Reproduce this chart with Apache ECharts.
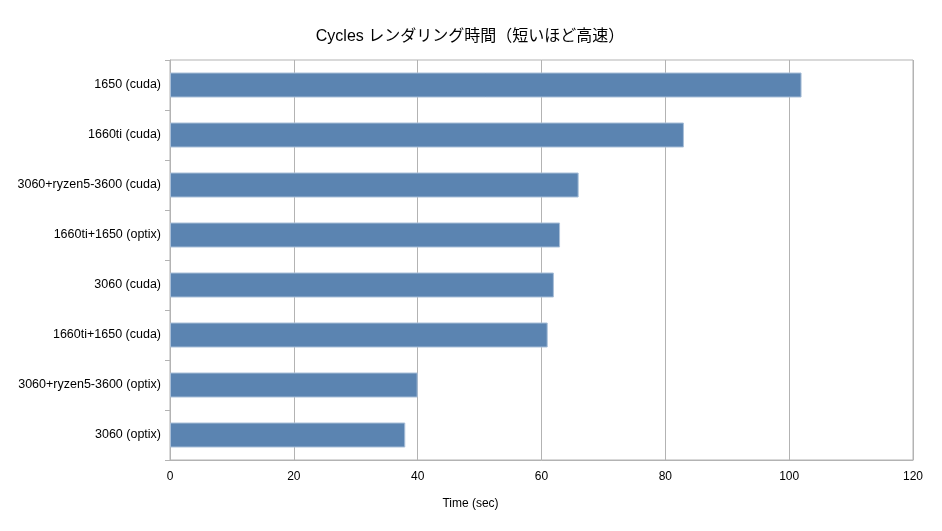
<!DOCTYPE html>
<html>
<head>
	<meta charset="utf-8">
	<title>Cycles レンダリング時間</title>
    <script src="https://cdn.jsdelivr.net/npm/echarts@6/dist/echarts.min.js"></script>
    <style>
        html, body { margin: 0; padding: 0; background: #fff; }
    </style>
</head>
<body>
    <div id="main" style="width: 942px;height:531px;"></div>
	<script type="text/javascript">
        // bottom to top, as the category axis draws them
        const categories = [
            '3060 (optix)',
            '3060+ryzen5-3600 (optix)',
            '1660ti+1650 (cuda)',
            '3060 (cuda)',
            '1660ti+1650 (optix)',
            '3060+ryzen5-3600 (cuda)',
            '1660ti (cuda)',
            '1650 (cuda)'
        ];
        const renderSeconds = [38, 40, 61, 62, 63, 66, 83, 102];
        const xTicks = [0, 20, 40, 60, 80, 100, 120];

        const font = "'Liberation Sans', 'Noto Sans CJK JP', sans-serif";
        const gridColor = '#b3b3b3';

        const myChart = echarts.init(document.getElementById('main'));
        const options = {
            animation: false,
            title: {
                text: 'Cycles レンダリング時間（短いほど高速）',
                left: 465,
                top: 24,
                textAlign: 'center',
                textStyle: {
                    fontFamily: font,
                    fontSize: 16,
                    fontWeight: 'normal',
                    color: '#000'
                }
            },
            grid: {
                left: 170,
                right: 29,
                top: 60,
                bottom: 71,
                show: true,
                borderColor: gridColor,
                borderWidth: 1
            },
            xAxis: {
                type: 'value',
                min: xTicks[0],
                max: xTicks[xTicks.length - 1],
                interval: 20,
                name: 'Time (sec)',
                nameLocation: 'middle',
                nameGap: 38,
                nameTextStyle: {
                    fontFamily: font,
                    fontSize: 12,
                    color: '#000',
                    verticalAlign: 'top',
                    padding: [0, 142, 0, 0]
                },
                axisLine: { show: true, lineStyle: { color: gridColor } },
                axisTick: { show: false },
                axisLabel: {
                    margin: 11,
                    fontFamily: font,
                    fontSize: 12,
                    color: '#000'
                },
                splitLine: { show: true, lineStyle: { color: gridColor } }
            },
            yAxis: {
                type: 'category',
                data: categories,
                axisLine: { show: true, lineStyle: { color: gridColor } },
                axisTick: { show: true, length: 5, lineStyle: { color: gridColor } },
                axisLabel: {
                    margin: 9,
                    fontFamily: font,
                    fontSize: 12.5,
                    color: '#000'
                },
                splitLine: { show: false }
            },
            series: [{
                type: 'bar',
                data: renderSeconds,
                barWidth: 25,
                itemStyle: {
                    color: '#5b84b1',
                    borderColor: '#a9bfd8',
                    borderWidth: 1
                }
            }]
        };
        myChart.setOption(options);
	</script>
</body>
</html>
